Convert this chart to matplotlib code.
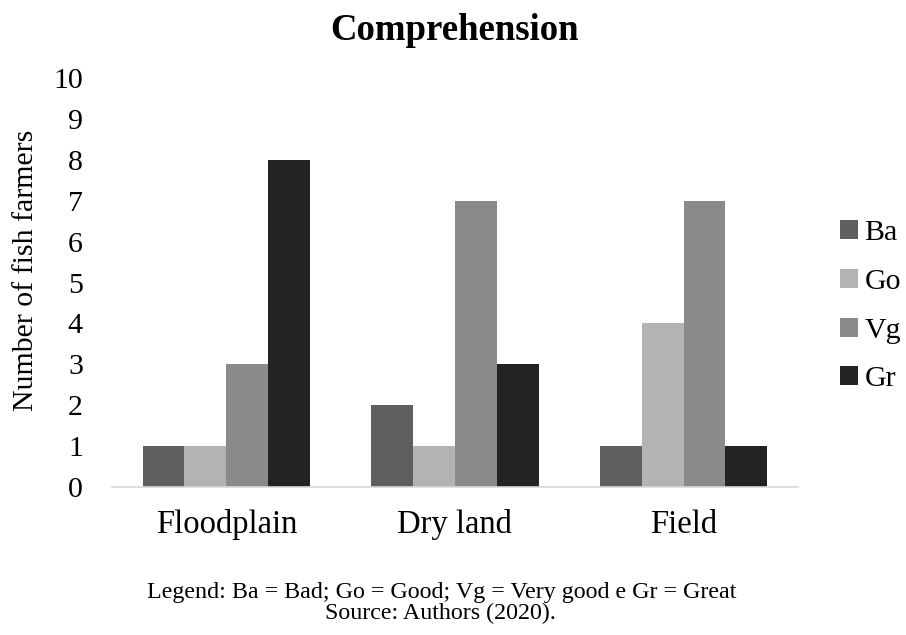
import matplotlib.pyplot as plt
import numpy as np

plt.rcParams['font.family'] = ['Liberation Serif', 'DejaVu Serif']

categories = ['Floodplain', 'Dry land', 'Field']
series = ['Ba', 'Go', 'Vg', 'Gr']
ba = [1, 2, 1]
go = [1, 1, 4]
vg = [3, 7, 7]
gr = [8, 3, 1]
colors = ['#5f5f5f', '#b3b3b3', '#8a8a8a', '#232323']

fig = plt.figure(figsize=(9.06, 6.35), dpi=100)
ax = fig.add_axes([0.1236, 0.233, 0.757, 0.644])

x = np.arange(len(categories))
w = 0.183
for i, (name, vals) in enumerate(zip(series, [ba, go, vg, gr])):
    ax.bar(x + (i - 1.5) * w, vals, w, color=colors[i], label=name)

ax.set_xlim(-0.5, len(categories) - 0.5)
ax.set_ylim(0, 10)
ax.set_yticks(range(0, 11))
ax.set_xticks(x)
ax.set_xticklabels(categories, fontsize=23.5)
ax.tick_params(axis='both', length=0)
ax.tick_params(axis='y', pad=21, labelsize=21.5)
ax.tick_params(axis='x', pad=16)
for s in ['top', 'right', 'left']:
    ax.spines[s].set_visible(False)
ax.spines['bottom'].set_color('#d9d9d9')
ax.spines['bottom'].set_linewidth(1.2)

ax.set_ylabel('Number of fish farmers', fontsize=21.5)
ax.yaxis.set_label_coords(-0.106, 0.53)
fig.text(0.502, 0.952, 'Comprehension', ha='center', va='center',
         fontsize=26.5, fontweight='bold')

ax.legend(loc='center left', bbox_to_anchor=(1.023, 0.442), frameon=False,
          fontsize=21.5, handlelength=0.6, handleheight=0.6,
          handletextpad=0.2, labelspacing=0.76)

# caption lines under the chart
fig.text(0.487, 0.0677, 'Legend: Ba = Bad; Go = Good; Vg = Very good e Gr = Great',
         ha='center', va='center', fontsize=17.3)
fig.text(0.486, 0.0346, 'Source: Authors (2020).',
         ha='center', va='center', fontsize=17.3)

fig.savefig('out.png', dpi=100)
